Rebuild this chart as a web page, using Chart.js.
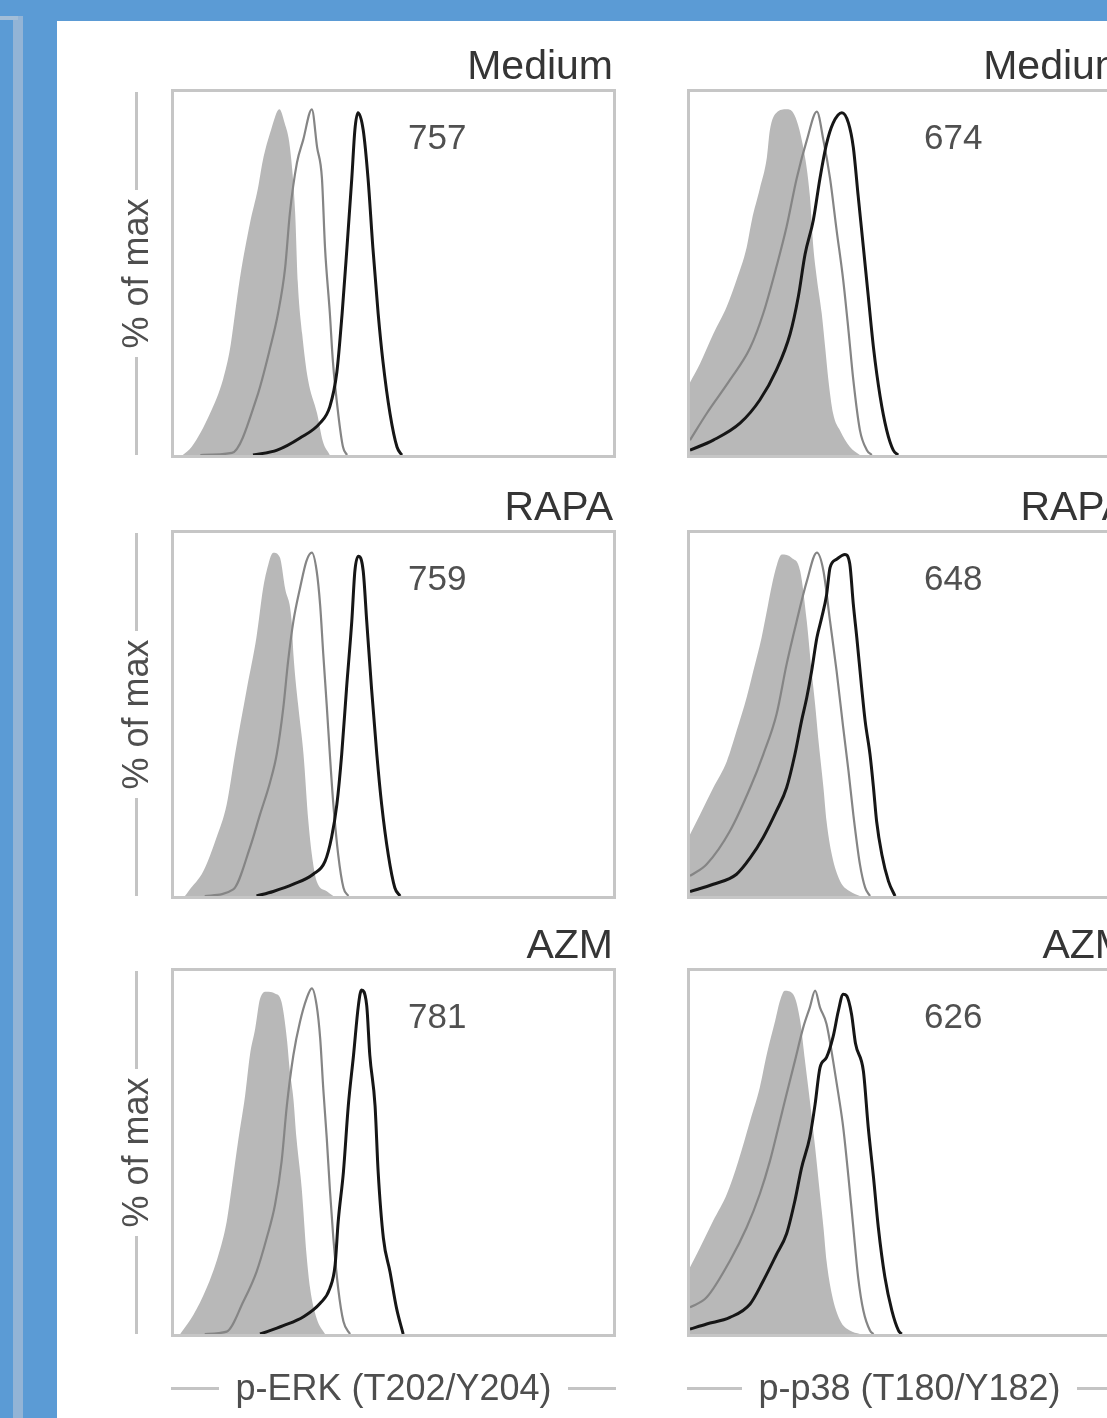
<!DOCTYPE html>
<html>
<head>
<meta charset="utf-8">
<script src="https://cdn.jsdelivr.net/npm/chart.js@4.4.1/dist/chart.umd.min.js"></script>
<style>
html, body { margin: 0; padding: 0; }
body { width: 1107px; height: 1418px; overflow: hidden; position: relative; background: #5b9bd5; font-family: "Liberation Sans", Arial, sans-serif; }
.edge-v { position: absolute; left: 13px; top: 16px; width: 10px; height: 1402px; background: #93b4d6; }
.edge-h { position: absolute; left: 0; top: 16px; width: 18px; height: 4px; background: #a3bed8; }
.sheet { position: absolute; left: 57px; top: 21px; width: 1060px; height: 1400px; background: #fff; }
#fig { position: absolute; left: 0; top: 0; width: 1107px; height: 1418px; filter: blur(0.7px); }
.box { position: absolute; width: 439px; height: 363px; border: 3px solid #c6c6c6; background: #fff; }
.box canvas { display: block; }
.title { position: absolute; font-size: 41px; line-height: 41px; color: #353535; white-space: nowrap; text-align: right; }
.mfi { position: absolute; font-size: 35px; line-height: 35px; color: #505050; }
.ylab { position: absolute; width: 363px; height: 40px; display: flex; align-items: center; transform-origin: 0 0; transform: rotate(-90deg); }
.xlab { position: absolute; width: 445px; height: 40px; display: flex; align-items: center; }
.rule { flex: 1; height: 3px; background: #c4c4c4; }
.lab { font-size: 36px; color: #4e4e4e; white-space: nowrap; }
.ylab .lab { margin: 0 8px; }
.xlab .lab { margin: 0 16px; }
</style>
</head>
<body>
<div class="edge-v"></div>
<div class="edge-h"></div>
<div class="sheet"></div>
<div id="fig"></div>
<script>
// x: fluorescence channel (0-100 across the plot), y: % of max
var treatments = ['Medium', 'RAPA', 'AZM'];
var markers = ['p-ERK (T202/Y204)', 'p-p38 (T180/Y182)'];
var mfiErk = ['757', '759', '781'];
var mfiP38 = ['674', '648', '626'];

// p-ERK, isotype (filled) / unstimulated (thin gray) / stimulated (black)
var erkMediumIso = [[2,0],[4,2.3],[8.2,12],[11.2,22],[12.8,31],[13.9,41],[15,51],[17.3,67],[19.1,77],[20.2,85],[22.1,94],[24,100],[25.2,96],[26.4,89],[27.6,70],[28.2,50],[29.2,35],[30.5,22],[32.6,12],[33.9,4],[35.5,0]];
var erkMediumCtrl = [[6,0],[13.2,0.6],[18.9,16.8],[21.9,31],[23.7,41],[25.3,54],[26.4,70],[28,84.5],[29.4,91],[31.4,100],[32.6,89],[33.7,80],[34.4,60],[35.5,41],[36.2,27],[37.4,12],[38.5,2.3],[39.4,0]];
var erkMediumStim = [[18,0],[23.5,1.4],[28.7,4.9],[33.3,9.3],[35.5,14],[37.1,24],[38.3,41],[39.4,60],[40.5,80],[41.2,94],[41.9,99],[43.1,94],[44.2,80],[45.3,60],[46.5,41],[47.6,27],[49.2,12],[50.8,2.3],[51.9,0]];

var erkRapaIso = [[2.5,0],[3.3,1.4],[6.7,7.2],[9.7,17],[12,26.5],[13.9,41],[16.6,60],[18.8,75],[20.3,89],[21.1,94],[22.6,99.3],[24.1,98],[25.3,89],[26.8,79.5],[27.2,70],[28.3,55],[29.5,41],[30.6,21.7],[31.4,12],[32.5,4.3],[34.8,1.4],[36.3,0]];
var erkRapaCtrl = [[7,0],[13.5,1.9],[17.3,14],[19.6,23.6],[21.9,33],[23.4,41],[24.9,54.5],[26,68],[27.2,79.5],[28.7,89],[30.2,97],[31.4,99.3],[32.5,94],[33.3,84],[34,70],[34.8,55],[35.5,41],[36.3,26.5],[37.4,12],[38.6,2.4],[39.7,0]];
var erkRapaStim = [[18.8,0],[22.6,1.3],[27.2,3.4],[31.7,6.3],[34.4,10],[35.9,17],[37.1,26.5],[38.2,41],[39.3,60],[40.5,79.5],[41.2,94],[42,98.3],[43.1,94],[43.9,79.5],[45,60],[46.2,41],[47.3,26.5],[48.8,12],[50.3,2.4],[51.5,0]];

var erkAzmIso = [[1.4,0],[4.4,5.5],[7.4,13.2],[10.1,22.8],[12,32.5],[13.1,42],[14.7,56.6],[16.2,69],[17.3,80.7],[18.5,88.4],[19.6,97],[21.1,99],[23,98.5],[24.5,96],[25.7,85.5],[26.4,76],[27.2,68],[27.9,56.6],[29.1,42],[30.2,22.8],[31,13.2],[32.5,4.5],[34.4,0]];
var erkAzmCtrl = [[7,0],[12,0.7],[15.8,9.4],[18.8,18],[21.1,27.7],[23,37.3],[24.5,49.8],[25.7,66],[27.2,80.7],[28.7,90.3],[30.2,97],[31.4,100],[32.5,95],[33.3,85.5],[34,71],[34.8,56.6],[35.5,42],[36.3,27.7],[37.4,13.2],[38.6,3.6],[40.1,0]];
var erkAzmStim = [[19.6,0],[24.9,2.4],[29.5,5],[33.3,8.9],[35.5,13.2],[36.7,20],[37.4,32.5],[38.6,47],[39.7,66],[40.9,80.7],[42,95],[42.7,99.5],[43.9,95],[44.6,80.7],[45.8,66],[46.5,47],[47.7,27.7],[49.2,18],[50.7,7.4],[52.2,0]];

// p-p38
var p38MediumIso = [[0,21],[2.3,26.5],[5.3,35],[8.4,43],[10.6,50.6],[12.9,60],[14.1,68],[15.9,77],[17.5,86],[18.2,94],[19.7,99],[22,100],[23.5,99],[25.8,89],[27.3,75],[28.1,60],[28.9,51],[30,41],[30.8,31],[31.5,22],[32.6,12],[34.2,7],[36.4,2.4],[38.7,0]];
var p38MediumCtrl = [[0,4.3],[3.8,12],[9.1,21.7],[13.7,31],[16.7,41],[19.7,54.5],[22,66],[24.3,80],[26.6,91],[28.9,99.3],[30.4,91],[31.9,80],[33.4,65],[34.9,50.6],[36.1,36],[37.2,21.7],[38.7,7.2],[40.3,1.4],[41.4,0]];
var p38MediumStim = [[0,1.4],[5.3,4.3],[11.4,9.2],[15.9,15.9],[19.7,24.6],[22.8,35],[24.7,46],[26.2,58],[28.1,68],[29.6,80],[31.1,90],[32.6,96],[34.6,99],[36.1,96],[37.2,89],[38.3,75],[39.5,60],[40.6,46],[41.8,31],[43.3,17],[44.8,7.2],[46.3,1.4],[47.4,0]];

var p38RapaIso = [[0,17.8],[2.3,23.6],[5.3,31.3],[8.4,39],[10.6,47.7],[12.9,57.4],[14.4,65],[16.3,74.7],[17.8,84.4],[19.4,94],[20.9,98.8],[23.2,97.8],[25.1,94],[26.6,79.5],[27.7,65],[28.5,55.4],[29.2,45.8],[30.4,31.3],[31.1,21.7],[32.3,12],[34.2,4.3],[36.4,1.4],[38.7,0]];
var p38RapaCtrl = [[0,5.8],[3.8,9.2],[9.1,18.8],[13.7,31.3],[16.7,41],[19.7,52.5],[22,67],[24.3,79.5],[26.6,91],[28.9,99.3],[30.4,94],[31.9,79.5],[33.4,65],[34.9,48.7],[36.1,36.2],[37.2,23.6],[38.7,9.2],[39.9,2.4],[41,0]];
var p38RapaStim = [[0,1.3],[5.3,3.4],[10.6,6.3],[13.7,11],[16.7,17],[19.7,24.6],[22,31.3],[23.9,41],[25.4,50.6],[26.6,57.4],[27.7,65],[28.9,74.7],[30,80.5],[31.1,87],[31.9,95],[33.4,97.4],[35.3,98.8],[36.4,96],[37.2,84.4],[38,74.7],[39.1,60.3],[39.9,50.6],[41,41],[41.8,31.3],[42.5,21.7],[43.7,12],[45.2,4.3],[46.7,0]];

var p38AzmIso = [[0,19.3],[2.3,25],[5.3,32.8],[8.4,40.5],[11,50],[13.7,61.7],[15.9,71.3],[17.5,81],[19.4,90.6],[20.5,96.4],[21.6,99.3],[23.5,98.3],[25.1,90.6],[26.2,79],[27.3,67.5],[28.5,54],[29.6,40.5],[30.4,30.8],[31.1,21.2],[32.3,11.6],[34.2,3.9],[36.4,1],[38.7,0]];
var p38AzmCtrl = [[0,7.7],[3.8,10.6],[9.1,21.2],[12.9,30.8],[15.9,40.5],[18.2,50],[20.5,61.7],[22,69.4],[23.9,79],[25.8,88.7],[27.3,94.5],[28.5,99.3],[29.6,94.5],[31.1,89.7],[32.6,79],[33.8,69.4],[34.9,59.8],[36.1,45.3],[37.2,30.8],[38.3,16.4],[39.5,6.7],[41,1],[41.8,0]];
var p38AzmStim = [[0,1.4],[3.8,2.9],[9.1,4.8],[13.7,8.7],[16.7,15.4],[19.7,23],[22,29],[23.9,38.6],[25.4,48],[27.3,57],[28.5,66.5],[29.6,77],[31.1,80],[32.6,86],[33.8,93.5],[34.9,98.3],[35.7,97.8],[36.8,92.5],[37.7,84],[39.5,76],[40.6,59.8],[41.8,45.3],[42.9,30.8],[44.4,16.4],[46,6.7],[47.5,1],[48.2,0]];

var panels = [
	[[erkMediumIso, erkMediumCtrl, erkMediumStim], [erkRapaIso, erkRapaCtrl, erkRapaStim], [erkAzmIso, erkAzmCtrl, erkAzmStim]],
	[[p38MediumIso, p38MediumCtrl, p38MediumStim], [p38RapaIso, p38RapaCtrl, p38RapaStim], [p38AzmIso, p38AzmCtrl, p38AzmStim]]
];
var mfis = [mfiErk, mfiP38];

var colLeft = [171, 687];
var rowTop = [89, 530, 968];
var fig = document.getElementById('fig');

function toXY(pts) {
	return pts.map(function(p) { return {x: p[0], y: p[1]}; });
}

function addDiv(cls, x, y, html) {
	var d = document.createElement('div');
	d.className = cls;
	d.style.left = x + 'px';
	d.style.top = y + 'px';
	if (html) d.innerHTML = html;
	fig.appendChild(d);
	return d;
}

function makeChart(canvas, curves) {
	return new Chart(canvas.getContext('2d'), {
		type: 'line',
		data: {
			datasets: [
				{data: toXY(curves[2]), borderColor: '#161616', borderWidth: 3, fill: false, order: 1},
				{data: toXY(curves[1]), borderColor: '#858585', borderWidth: 2.2, fill: false, order: 2},
				{data: toXY(curves[0]), borderColor: 'rgba(0,0,0,0)', borderWidth: 0, backgroundColor: '#b8b8b8', fill: 'origin', order: 3}
			]
		},
		options: {
			responsive: false,
			animation: false,
			events: [],
			layout: {padding: 0},
			elements: {
				point: {radius: 0},
				line: {cubicInterpolationMode: 'monotone'}
			},
			plugins: {legend: {display: false}, tooltip: {enabled: false}},
			scales: {
				x: {type: 'linear', min: 0, max: 100, display: false},
				y: {type: 'linear', min: 0, max: 105, display: false}
			}
		}
	});
}

function buildFigure() {
	for (var c = 0; c < 2; c++) {
		for (var r = 0; r < 3; r++) {
			var bx = colLeft[c], by = rowTop[r];
			var t = addDiv('title', bx, by - 44, treatments[r]);
			t.style.width = '442px';
			var box = addDiv('box', bx, by);
			var cv = document.createElement('canvas');
			cv.width = 439;
			cv.height = 363;
			box.appendChild(cv);
			makeChart(cv, panels[c][r]);
			addDiv('mfi', bx + 237, by + 30, mfis[c][r]);
			if (c == 0) {
				addDiv('ylab', 116, by + 3 + 363, '<div class="rule"></div><div class="lab">% of max</div><div class="rule"></div>');
			}
		}
		addDiv('xlab', colLeft[c], 1368, '<div class="rule"></div><div class="lab">' + markers[c] + '</div><div class="rule"></div>');
	}
}
buildFigure();
</script>
</body>
</html>
